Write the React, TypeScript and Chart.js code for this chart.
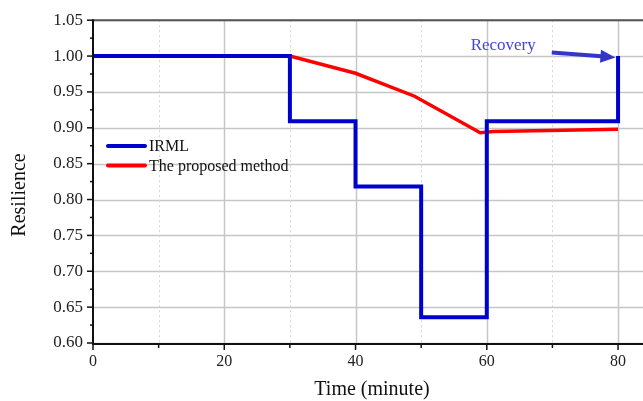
import React, { useEffect, useRef } from "react";
import { Chart, registerables } from "chart.js";

Chart.register(...registerables);

// ---- data ----
const irmlTime = [0, 30, 40, 50, 60, 80];
const irmlValues = [1.0, 0.909, 0.818, 0.636, 0.909, 1.0];

const proposedTime = [0, 30, 40, 49, 59, 61, 80];
const proposedValues = [1.0, 1.0, 0.976, 0.944, 0.893, 0.895, 0.898];

const xMajorTicks = [0, 20, 40, 60, 80];
const xMinorTicks = [10, 30, 50, 70];
const yMajorTicks = [0.6, 0.65, 0.7, 0.75, 0.8, 0.85, 0.9, 0.95, 1.0, 1.05];
const yMinorTicks = [0.625, 0.675, 0.725, 0.775, 0.825, 0.875, 0.925, 0.975, 1.025];

const seriesLabels = ["IRML", "The proposed method"];
const xTitle = "Time (minute)";
const yTitle = "Resilience";
const annotationText = "Recovery";
const annotationTextPos = { x: 62.5, y: 1.014 };
const arrowFrom = { x: 69.9, y: 1.005 };
const arrowTo = { x: 79.6, y: 0.998 };

const SERIF = '"Liberation Serif", "Times New Roman", serif';

const decorPlugin = {
  id: "decor",
  beforeDatasetsDraw(chart: any) {
    const { ctx, chartArea: a, scales } = chart;
    const xs = scales.x, ys = scales.y;
    ctx.save();
    ctx.strokeStyle = "#c6c6c6";
    ctx.lineWidth = 1.5;
    yMajorTicks.forEach((v) => {
      const y = Math.round(ys.getPixelForValue(v)) + 0.5;
      ctx.beginPath();
      ctx.moveTo(a.left, y);
      ctx.lineTo(a.right, y);
      ctx.stroke();
    });
    xMajorTicks.forEach((v) => {
      if (v === 0) return;
      const x = Math.round(xs.getPixelForValue(v)) + 0.5;
      ctx.beginPath();
      ctx.moveTo(x, a.top);
      ctx.lineTo(x, a.bottom);
      ctx.stroke();
    });
    ctx.strokeStyle = "#d4d4d4";
    ctx.lineWidth = 1;
    ctx.setLineDash([2, 3]);
    xMinorTicks.forEach((v) => {
      const x = Math.round(xs.getPixelForValue(v)) + 0.5;
      ctx.beginPath();
      ctx.moveTo(x, a.top);
      ctx.lineTo(x, a.bottom);
      ctx.stroke();
    });
    ctx.setLineDash([]);
    ctx.restore();
  },
  afterDatasetsDraw(chart: any) {
    const { ctx, chartArea: a, scales } = chart;
    const xs = scales.x, ys = scales.y;
    ctx.save();
    ctx.strokeStyle = "#555555";
    ctx.lineWidth = 2;
    ctx.beginPath();
    ctx.moveTo(a.left, a.top);
    ctx.lineTo(a.right, a.top);
    ctx.stroke();
    ctx.strokeStyle = "#111111";
    ctx.lineWidth = 2;
    ctx.beginPath();
    ctx.moveTo(a.left, a.top - 1);
    ctx.lineTo(a.left, a.bottom + 1);
    ctx.lineTo(a.right, a.bottom + 1);
    ctx.stroke();
    ctx.lineWidth = 1.5;
    yMajorTicks.forEach((v) => {
      const y = ys.getPixelForValue(v);
      ctx.beginPath();
      ctx.moveTo(a.left, y);
      ctx.lineTo(a.left - 6, y);
      ctx.stroke();
    });
    yMinorTicks.forEach((v) => {
      const y = ys.getPixelForValue(v);
      ctx.beginPath();
      ctx.moveTo(a.left, y);
      ctx.lineTo(a.left - 3, y);
      ctx.stroke();
    });
    xMajorTicks.forEach((v) => {
      const x = xs.getPixelForValue(v);
      ctx.beginPath();
      ctx.moveTo(x, a.bottom);
      ctx.lineTo(x, a.bottom + 7);
      ctx.stroke();
    });
    xMinorTicks.forEach((v) => {
      const x = xs.getPixelForValue(v);
      ctx.beginPath();
      ctx.moveTo(x, a.bottom);
      ctx.lineTo(x, a.bottom + 5);
      ctx.stroke();
    });
    ctx.restore();
  },
  afterDraw(chart: any) {
    const { ctx, scales } = chart;
    const xs = scales.x, ys = scales.y;
    ctx.save();
    chart.data.datasets.forEach((ds: any, i: number) => {
      const y = 146 + i * 19.5;
      ctx.strokeStyle = ds.borderColor;
      ctx.lineWidth = 4;
      ctx.lineCap = "round";
      ctx.beginPath();
      ctx.moveTo(108, y);
      ctx.lineTo(145, y);
      ctx.stroke();
      ctx.fillStyle = "#111111";
      ctx.font = `16px ${SERIF}`;
      ctx.textBaseline = "middle";
      ctx.textAlign = "left";
      ctx.fillText(ds.label, 149, y + 1);
    });
    ctx.fillStyle = "#4545d8";
    ctx.font = `17px ${SERIF}`;
    ctx.textAlign = "center";
    ctx.textBaseline = "middle";
    ctx.fillText(annotationText, xs.getPixelForValue(annotationTextPos.x), ys.getPixelForValue(annotationTextPos.y));
    const x1 = xs.getPixelForValue(arrowFrom.x), y1 = ys.getPixelForValue(arrowFrom.y);
    const x2 = xs.getPixelForValue(arrowTo.x), y2 = ys.getPixelForValue(arrowTo.y);
    const ang = Math.atan2(y2 - y1, x2 - x1);
    const headLen = 15, headW = 6.5;
    const bx = x2 - headLen * Math.cos(ang), by = y2 - headLen * Math.sin(ang);
    ctx.strokeStyle = "#3535cc";
    ctx.fillStyle = "#3535cc";
    ctx.lineWidth = 4;
    ctx.lineCap = "butt";
    ctx.beginPath();
    ctx.moveTo(x1, y1);
    ctx.lineTo(bx + 1, by);
    ctx.stroke();
    ctx.beginPath();
    ctx.moveTo(x2, y2);
    ctx.lineTo(bx + headW * Math.sin(ang), by - headW * Math.cos(ang));
    ctx.lineTo(bx - headW * Math.sin(ang), by + headW * Math.cos(ang));
    ctx.closePath();
    ctx.fill();
    ctx.fillStyle = "#111111";
    ctx.font = `20px ${SERIF}`;
    ctx.textAlign = "center";
    ctx.textBaseline = "middle";
    ctx.fillText(xTitle, 372, 390);
    ctx.translate(20, 195);
    ctx.rotate(-Math.PI / 2);
    ctx.fillText(yTitle, 0, 0);
    ctx.restore();
  },
};

export default function App() {
  const ref = useRef<HTMLCanvasElement | null>(null);
  useEffect(() => {
    if (!ref.current) return;
    const chart = new Chart(ref.current, {
      type: "line",
      data: {
        datasets: [
          {
            label: seriesLabels[0],
            data: irmlTime.map((t, i) => ({ x: t, y: irmlValues[i] })),
            borderColor: "#0000cc",
            borderWidth: 4,
            stepped: "before",
            pointRadius: 0,
            fill: false,
            borderJoinStyle: "miter",
          },
          {
            label: seriesLabels[1],
            data: proposedTime.map((t, i) => ({ x: t, y: proposedValues[i] })),
            borderColor: "#ff0000",
            borderWidth: 3.5,
            pointRadius: 0,
            fill: false,
            tension: 0,
          },
        ],
      },
      options: {
        animation: false,
        responsive: false,
        layout: { padding: { top: 20, right: 0, left: 0, bottom: 0 } },
        plugins: { legend: { display: false }, tooltip: { enabled: false } },
        scales: {
          x: {
            type: "linear",
            min: 0,
            max: 83.8,
            grid: { display: false, drawTicks: false },
            border: { display: false },
            afterBuildTicks: (s: any) => {
              s.ticks = xMajorTicks.map((v) => ({ value: v }));
            },
            afterFit: (s: any) => {
              s.height = 58;
            },
            ticks: {
              padding: 9,
              maxRotation: 0,
              autoSkip: false,
              color: "#222222",
              font: { family: SERIF, size: 16 },
              callback: (v: any) => String(v),
            },
          },
          y: {
            type: "linear",
            min: 0.6,
            max: 1.05,
            grid: { display: false, drawTicks: false },
            border: { display: false },
            afterBuildTicks: (s: any) => {
              s.ticks = yMajorTicks.map((v) => ({ value: v }));
            },
            afterFit: (s: any) => {
              s.width = 93;
            },
            ticks: {
              padding: 10,
              autoSkip: false,
              color: "#222222",
              font: { family: SERIF, size: 17 },
              callback: (v: any) => Number(v).toFixed(2),
            },
          },
        },
      },
      plugins: [decorPlugin],
    } as any);
    return () => chart.destroy();
  }, []);
  return (
    <div style={{ position: "absolute", left: 0, top: 0, width: 643, height: 401, background: "#fff" }}>
      <canvas ref={ref} width={643} height={401} style={{ display: "block" }} />
    </div>
  );
}
